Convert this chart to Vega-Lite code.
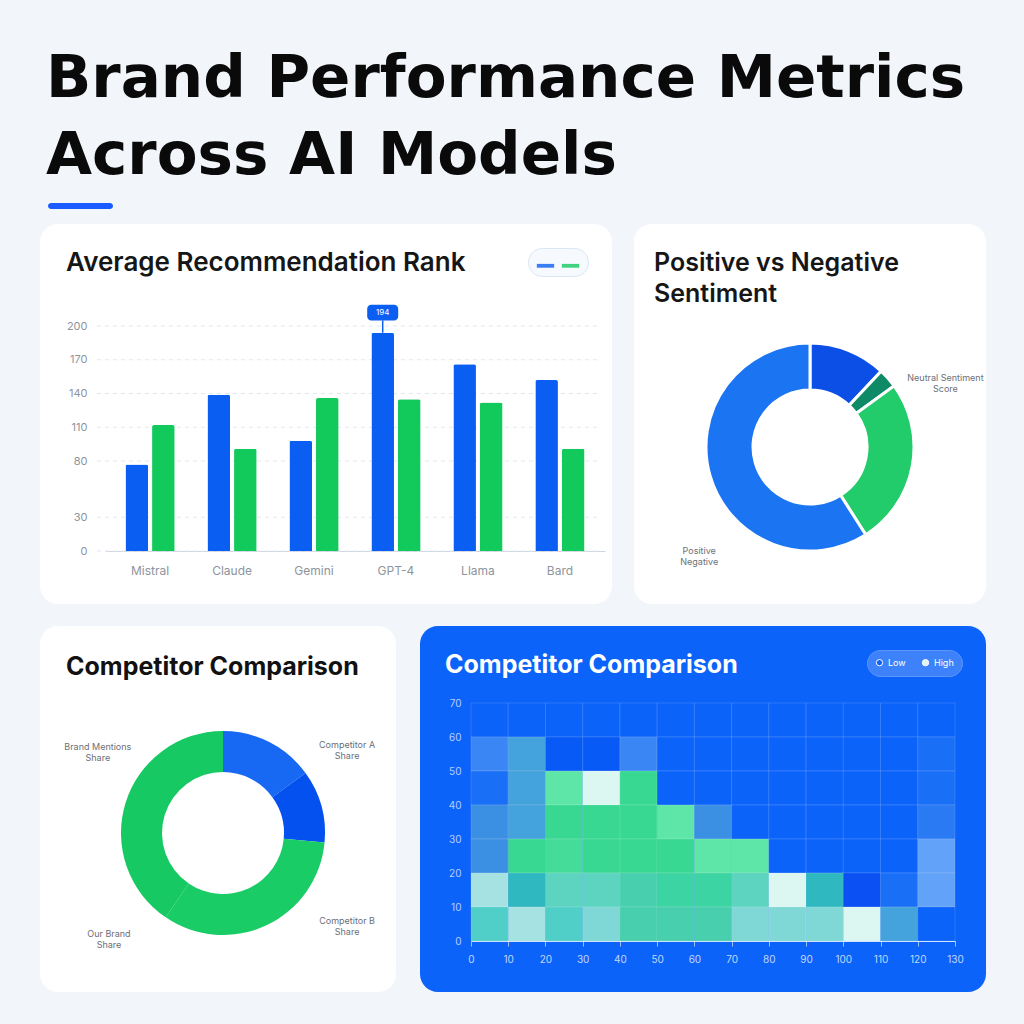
{
  "$schema": "https://vega.github.io/schema/vega-lite/v6.json",
  "background": "#f2f6fb",
  "padding": {"left": 40, "top": 48, "right": 38, "bottom": 32},
  "config": {
    "view": {"stroke": null},
    "font": "Inter",
    "title": {"font": "Inter"}
  },
  "title": {
    "text": ["Brand Performance Metrics", "Across AI Models"],
    "anchor": "start",
    "font": "DejaVu Sans",
    "fontSize": 59.5,
    "fontWeight": "bold",
    "color": "#0a0a0a",
    "lineHeight": 77,
    "dx": 6,
    "offset": 17
  },
  "resolve": {"scale": {"color": "independent", "theta": "independent"}},
  "vconcat": [
    {
      "hconcat": [
        {
          "width": 1,
          "height": 6,
          "data": {"values": []},
          "mark": {"type": "rule", "opacity": 0},
          "encoding": {}
        },
        {
          "width": 65,
          "height": 6,
          "view": {"fill": "#1a5cff", "cornerRadius": 3, "stroke": null},
          "data": {"values": []},
          "mark": {"type": "rule", "opacity": 0},
          "encoding": {}
        }
      ],
      "spacing": 7
    },
    {
      "resolve": {"scale": {"color": "independent", "theta": "independent"}},
      "vconcat": [
        {
          "resolve": {"scale": {"color": "independent", "theta": "independent"}},
          "hconcat": [
            {
              "width": 572,
              "height": 380,
              "view": {"fill": "white", "cornerRadius": 18, "stroke": null},
              "title": {"text": "Average Recommendation Rank", "anchor": "start", "frame": "group", "offset": -52, "dx": 26, "fontSize": 26, "fontWeight": 600, "color": "#161616"},
              "layer": [
                {
                  "data": {"values": [{"v": 0}, {"v": 30}, {"v": 80}, {"v": 110}, {"v": 140}, {"v": 170}, {"v": 200}]},
                  "mark": {"type": "rule", "color": "#e3e8ef", "strokeDash": [4, 4], "strokeWidth": 1},
                  "encoding": {
                    "y": {"field": "v", "type": "quantitative", "scale": {"domain": [0, 200], "range": [327, 102], "nice": false}, "axis": {"title": null, "orient": "left", "offset": -52, "labelPadding": 5, "domain": false, "ticks": false, "tickSize": 0, "grid": false, "values": [0, 30, 80, 110, 140, 170, 200], "labelColor": "#8d949c", "labelFontSize": 11}},
                    "x": {"datum": 0, "type": "quantitative", "scale": {"domain": [0, 1], "range": [57, 557]}, "axis": null},
                    "x2": {"datum": 1}
                  }
                },
                {
                  "layer": [
                    {
                      "data": {"values": [
                        {"model": "Mistral", "series": "Brand", "value": 77},
                        {"model": "Mistral", "series": "Competitor", "value": 112},
                        {"model": "Claude", "series": "Brand", "value": 139},
                        {"model": "Claude", "series": "Competitor", "value": 91},
                        {"model": "Gemini", "series": "Brand", "value": 98},
                        {"model": "Gemini", "series": "Competitor", "value": 136},
                        {"model": "GPT-4", "series": "Brand", "value": 194},
                        {"model": "GPT-4", "series": "Competitor", "value": 135},
                        {"model": "Llama", "series": "Brand", "value": 166},
                        {"model": "Llama", "series": "Competitor", "value": 132},
                        {"model": "Bard", "series": "Brand", "value": 152},
                        {"model": "Bard", "series": "Competitor", "value": 91}
                      ]},
                      "mark": {"type": "bar", "cornerRadiusTopLeft": 2, "cornerRadiusTopRight": 2},
                      "encoding": {
                        "x": {"field": "model", "type": "nominal", "sort": null, "scale": {"domain": ["Mistral", "Claude", "Gemini", "GPT-4", "Llama", "Bard"], "range": [65, 565], "paddingInner": 0.4, "paddingOuter": 0.25}, "axis": {"title": null, "orient": "bottom", "offset": -53, "labelPadding": 14, "ticks": false, "tickSize": 0, "domain": true, "domainColor": "#cfd6df", "labelAngle": 0, "labelColor": "#8d949c", "labelFontSize": 12}},
                        "xOffset": {"field": "series", "type": "nominal", "scale": {"domain": ["Brand", "Competitor"], "paddingInner": 0.15}},
                        "y": {"field": "value", "type": "quantitative", "scale": {"domain": [0, 200], "range": [327, 102], "nice": false}, "axis": {"title": null, "orient": "left", "offset": -52, "labelPadding": 5, "domain": false, "ticks": false, "tickSize": 0, "grid": false, "values": [0, 30, 80, 110, 140, 170, 200], "labelColor": "#8d949c", "labelFontSize": 11}},
                        "color": {"field": "series", "type": "nominal", "scale": {"domain": ["Brand", "Competitor"], "range": ["#0b5ef2", "#12c95c"]}, "legend": {"title": null, "orient": "top-right", "offset": 24, "direction": "horizontal", "fillColor": "#f6f9fe", "strokeColor": "#dbe6f6", "cornerRadius": 14, "padding": 8, "symbolType": "M-1,-0.22H1V0.22H-1Z", "symbolSize": 300, "labelExpr": "''", "labelFontSize": 1, "labelOffset": 0, "columnPadding": 6, "symbolOpacity": 0.8}}
                      }
                    },
                    {
                      "data": {"values": [{"model": "GPT-4", "series": "Brand", "value": 194, "label": "194"}]},
                      "mark": {"type": "rule", "color": "#0b5ef2", "strokeWidth": 1.5},
                      "encoding": {
                        "x": {"field": "model", "type": "nominal"},
                        "xOffset": {"field": "series", "type": "nominal"},
                        "y": {"field": "value", "type": "quantitative", "axis": {"title": null, "orient": "left", "offset": -52, "labelPadding": 5, "domain": false, "ticks": false, "tickSize": 0, "grid": false, "values": [0, 30, 80, 110, 140, 170, 200], "labelColor": "#8d949c", "labelFontSize": 11}},
                        "y2": {"datum": 205}
                      }
                    },
                    {
                      "data": {"values": [{"model": "GPT-4", "series": "Brand", "value": 194, "label": "194"}]},
                      "mark": {"type": "bar", "width": 31, "cornerRadius": 4, "color": "#0b5ef2"},
                      "encoding": {
                        "x": {"field": "model", "type": "nominal"},
                        "xOffset": {"field": "series", "type": "nominal"},
                        "y": {"datum": 205, "type": "quantitative", "axis": {"title": null, "orient": "left", "offset": -52, "labelPadding": 5, "domain": false, "ticks": false, "tickSize": 0, "grid": false, "values": [0, 30, 80, 110, 140, 170, 200], "labelColor": "#8d949c", "labelFontSize": 11}},
                        "y2": {"datum": 219}
                      }
                    },
                    {
                      "data": {"values": [{"model": "GPT-4", "series": "Brand", "value": 194, "label": "194"}]},
                      "mark": {"type": "text", "color": "white", "fontSize": 8, "baseline": "middle"},
                      "encoding": {
                        "x": {"field": "model", "type": "nominal"},
                        "xOffset": {"field": "series", "type": "nominal"},
                        "y": {"datum": 212, "type": "quantitative", "axis": {"title": null, "orient": "left", "offset": -52, "labelPadding": 5, "domain": false, "ticks": false, "tickSize": 0, "grid": false, "values": [0, 30, 80, 110, 140, 170, 200], "labelColor": "#8d949c", "labelFontSize": 11}},
                        "text": {"field": "label"}
                      }
                    }
                  ]
                }
              ],
              "resolve": {"scale": {"x": "independent"}}
            },
            {
              "width": 352,
              "height": 380,
              "view": {"fill": "white", "cornerRadius": 18, "stroke": null},
              "title": {"text": ["Positive vs Negative", "Sentiment"], "anchor": "start", "frame": "group", "offset": -83, "dx": 20, "fontSize": 25, "fontWeight": 600, "lineHeight": 31, "color": "#161616"},
              "layer": [
                {
                  "data": {"values": [
                    {"i": 1, "label": "Neutral", "share": 12},
                    {"i": 2, "label": "Mixed", "share": 3},
                    {"i": 3, "label": "Negative", "share": 26},
                    {"i": 4, "label": "Positive", "share": 59}
                  ]},
                  "mark": {"type": "arc", "radius": 104, "radius2": 57, "stroke": "white", "strokeWidth": 3, "yOffset": 33},
                  "encoding": {
                    "theta": {"field": "share", "type": "quantitative", "stack": true, "scale": {"domain": [0, 100]}},
                    "order": {"field": "i", "type": "quantitative"},
                    "color": {"field": "label", "type": "nominal", "scale": {"domain": ["Neutral", "Mixed", "Negative", "Positive"], "range": ["#0b4fe6", "#0e8a66", "#22cc6a", "#1b74f2"]}, "legend": null}
                  }
                },
                {
                  "data": {"values": [
                    {"pos": 17.5, "t": "Neutral Sentiment\nScore"},
                    {"pos": 63, "t": "Positive\nNegative"}
                  ]},
                  "mark": {"type": "text", "radius": 152, "yOffset": 33, "fontSize": 9, "color": "#6b7078", "lineBreak": "\n"},
                  "encoding": {
                    "theta": {"field": "pos", "type": "quantitative", "stack": null, "scale": {"domain": [0, 100]}},
                    "text": {"field": "t"}
                  }
                }
              ]
            }
          ],
          "spacing": 22
        },
        {
          "resolve": {"scale": {"color": "independent", "theta": "independent"}},
          "hconcat": [
            {
              "width": 356,
              "height": 366,
              "view": {"fill": "white", "cornerRadius": 18, "stroke": null},
              "title": {"text": "Competitor Comparison", "anchor": "start", "frame": "group", "offset": -54, "dx": 26, "fontSize": 25, "fontWeight": 700, "color": "#111111"},
              "layer": [
                {
                  "data": {"values": [
                    {"i": 1, "label": "Competitor A", "share": 15},
                    {"i": 2, "label": "Competitor B", "share": 11.5},
                    {"i": 3, "label": "Competitor C", "share": 33},
                    {"i": 4, "label": "Our Brand", "share": 40.5}
                  ]},
                  "mark": {"type": "arc", "radius": 102, "radius2": 61, "stroke": "white", "strokeWidth": 0, "xOffset": 5, "yOffset": 24},
                  "encoding": {
                    "theta": {"field": "share", "type": "quantitative", "stack": true, "scale": {"domain": [0, 100]}},
                    "order": {"field": "i", "type": "quantitative"},
                    "color": {"field": "label", "type": "nominal", "scale": {"domain": ["Competitor A", "Competitor B", "Competitor C", "Our Brand"], "range": ["#1769f4", "#0551ef", "#19cc66", "#17c962"]}, "legend": null}
                  }
                },
                {
                  "data": {"values": [
                    {"pos": 15.2, "t": "Competitor A\nShare"},
                    {"pos": 34.8, "t": "Competitor B\nShare"},
                    {"pos": 63.5, "t": "Our Brand\nShare"},
                    {"pos": 84.6, "t": "Brand Mentions\nShare"}
                  ]},
                  "mark": {"type": "text", "radius": 152, "xOffset": 5, "yOffset": 24, "fontSize": 9, "color": "#6b7078", "lineBreak": "\n"},
                  "encoding": {
                    "theta": {"field": "pos", "type": "quantitative", "stack": null, "scale": {"domain": [0, 100]}},
                    "text": {"field": "t"}
                  }
                }
              ]
            },
            {
              "width": 566,
              "height": 366,
              "view": {"fill": "#0c63fa", "cornerRadius": 18, "stroke": null},
              "title": {"text": "Competitor Comparison", "anchor": "start", "frame": "group", "offset": -52, "dx": 25, "fontSize": 25, "fontWeight": 700, "color": "#ffffff"},
              "data": {"values": [
                {"c": 0, "c2": 10, "r": 60, "r2": 70, "v": 1}, {"c": 10, "c2": 20, "r": 60, "r2": 70, "v": 1}, {"c": 20, "c2": 30, "r": 60, "r2": 70, "v": 1}, {"c": 30, "c2": 40, "r": 60, "r2": 70, "v": 1}, {"c": 40, "c2": 50, "r": 60, "r2": 70, "v": 1}, {"c": 50, "c2": 60, "r": 60, "r2": 70, "v": 1}, {"c": 60, "c2": 70, "r": 60, "r2": 70, "v": 1}, {"c": 70, "c2": 80, "r": 60, "r2": 70, "v": 1}, {"c": 80, "c2": 90, "r": 60, "r2": 70, "v": 1}, {"c": 90, "c2": 100, "r": 60, "r2": 70, "v": 1}, {"c": 100, "c2": 110, "r": 60, "r2": 70, "v": 1}, {"c": 110, "c2": 120, "r": 60, "r2": 70, "v": 1}, {"c": 120, "c2": 130, "r": 60, "r2": 70, "v": 1},
                {"c": 0, "c2": 10, "r": 50, "r2": 60, "v": 4}, {"c": 10, "c2": 20, "r": 50, "r2": 60, "v": 7}, {"c": 20, "c2": 30, "r": 50, "r2": 60, "v": 0.5}, {"c": 30, "c2": 40, "r": 50, "r2": 60, "v": 0.5}, {"c": 40, "c2": 50, "r": 50, "r2": 60, "v": 4}, {"c": 50, "c2": 60, "r": 50, "r2": 60, "v": 1}, {"c": 60, "c2": 70, "r": 50, "r2": 60, "v": 1}, {"c": 70, "c2": 80, "r": 50, "r2": 60, "v": 1}, {"c": 80, "c2": 90, "r": 50, "r2": 60, "v": 1}, {"c": 90, "c2": 100, "r": 50, "r2": 60, "v": 1}, {"c": 100, "c2": 110, "r": 50, "r2": 60, "v": 1}, {"c": 110, "c2": 120, "r": 50, "r2": 60, "v": 1}, {"c": 120, "c2": 130, "r": 50, "r2": 60, "v": 2},
                {"c": 0, "c2": 10, "r": 40, "r2": 50, "v": 2}, {"c": 10, "c2": 20, "r": 40, "r2": 50, "v": 7}, {"c": 20, "c2": 30, "r": 40, "r2": 50, "v": 14}, {"c": 30, "c2": 40, "r": 40, "r2": 50, "v": 16}, {"c": 40, "c2": 50, "r": 40, "r2": 50, "v": 13}, {"c": 50, "c2": 60, "r": 40, "r2": 50, "v": 1}, {"c": 60, "c2": 70, "r": 40, "r2": 50, "v": 1}, {"c": 70, "c2": 80, "r": 40, "r2": 50, "v": 1}, {"c": 80, "c2": 90, "r": 40, "r2": 50, "v": 1}, {"c": 90, "c2": 100, "r": 40, "r2": 50, "v": 1}, {"c": 100, "c2": 110, "r": 40, "r2": 50, "v": 1}, {"c": 110, "c2": 120, "r": 40, "r2": 50, "v": 1}, {"c": 120, "c2": 130, "r": 40, "r2": 50, "v": 2},
                {"c": 0, "c2": 10, "r": 30, "r2": 40, "v": 6}, {"c": 10, "c2": 20, "r": 30, "r2": 40, "v": 7}, {"c": 20, "c2": 30, "r": 30, "r2": 40, "v": 13}, {"c": 30, "c2": 40, "r": 30, "r2": 40, "v": 13}, {"c": 40, "c2": 50, "r": 30, "r2": 40, "v": 13}, {"c": 50, "c2": 60, "r": 30, "r2": 40, "v": 14}, {"c": 60, "c2": 70, "r": 30, "r2": 40, "v": 6}, {"c": 70, "c2": 80, "r": 30, "r2": 40, "v": 1}, {"c": 80, "c2": 90, "r": 30, "r2": 40, "v": 1}, {"c": 90, "c2": 100, "r": 30, "r2": 40, "v": 1}, {"c": 100, "c2": 110, "r": 30, "r2": 40, "v": 1}, {"c": 110, "c2": 120, "r": 30, "r2": 40, "v": 1}, {"c": 120, "c2": 130, "r": 30, "r2": 40, "v": 3},
                {"c": 0, "c2": 10, "r": 20, "r2": 30, "v": 6}, {"c": 10, "c2": 20, "r": 20, "r2": 30, "v": 13}, {"c": 20, "c2": 30, "r": 20, "r2": 30, "v": 13.3}, {"c": 30, "c2": 40, "r": 20, "r2": 30, "v": 13}, {"c": 40, "c2": 50, "r": 20, "r2": 30, "v": 13}, {"c": 50, "c2": 60, "r": 20, "r2": 30, "v": 13}, {"c": 60, "c2": 70, "r": 20, "r2": 30, "v": 14}, {"c": 70, "c2": 80, "r": 20, "r2": 30, "v": 14}, {"c": 80, "c2": 90, "r": 20, "r2": 30, "v": 1}, {"c": 90, "c2": 100, "r": 20, "r2": 30, "v": 1}, {"c": 100, "c2": 110, "r": 20, "r2": 30, "v": 1}, {"c": 110, "c2": 120, "r": 20, "r2": 30, "v": 1}, {"c": 120, "c2": 130, "r": 20, "r2": 30, "v": 5},
                {"c": 0, "c2": 10, "r": 10, "r2": 20, "v": 15}, {"c": 10, "c2": 20, "r": 10, "r2": 20, "v": 8}, {"c": 20, "c2": 30, "r": 10, "r2": 20, "v": 10}, {"c": 30, "c2": 40, "r": 10, "r2": 20, "v": 10}, {"c": 40, "c2": 50, "r": 10, "r2": 20, "v": 12}, {"c": 50, "c2": 60, "r": 10, "r2": 20, "v": 12.5}, {"c": 60, "c2": 70, "r": 10, "r2": 20, "v": 12.5}, {"c": 70, "c2": 80, "r": 10, "r2": 20, "v": 10}, {"c": 80, "c2": 90, "r": 10, "r2": 20, "v": 16}, {"c": 90, "c2": 100, "r": 10, "r2": 20, "v": 8}, {"c": 100, "c2": 110, "r": 10, "r2": 20, "v": 0}, {"c": 110, "c2": 120, "r": 10, "r2": 20, "v": 2}, {"c": 120, "c2": 130, "r": 10, "r2": 20, "v": 5},
                {"c": 0, "c2": 10, "r": 0, "r2": 10, "v": 9}, {"c": 10, "c2": 20, "r": 0, "r2": 10, "v": 15}, {"c": 20, "c2": 30, "r": 0, "r2": 10, "v": 9}, {"c": 30, "c2": 40, "r": 0, "r2": 10, "v": 11}, {"c": 40, "c2": 50, "r": 0, "r2": 10, "v": 12}, {"c": 50, "c2": 60, "r": 0, "r2": 10, "v": 12}, {"c": 60, "c2": 70, "r": 0, "r2": 10, "v": 12}, {"c": 70, "c2": 80, "r": 0, "r2": 10, "v": 11}, {"c": 80, "c2": 90, "r": 0, "r2": 10, "v": 11}, {"c": 90, "c2": 100, "r": 0, "r2": 10, "v": 11}, {"c": 100, "c2": 110, "r": 0, "r2": 10, "v": 16}, {"c": 110, "c2": 120, "r": 0, "r2": 10, "v": 7}, {"c": 120, "c2": 130, "r": 0, "r2": 10, "v": 1}
              ]},
              "mark": {"type": "rect", "stroke": "#ffffff", "strokeOpacity": 0.13, "strokeWidth": 1},
              "encoding": {
                "x": {"field": "c", "type": "quantitative", "scale": {"domain": [0, 130], "range": [51, 535], "nice": false, "zero": false}, "axis": {"title": null, "orient": "bottom", "offset": -51, "values": [0, 10, 20, 30, 40, 50, 60, 70, 80, 90, 100, 110, 120, 130], "domain": true, "domainColor": "#ffffff", "domainOpacity": 0.8, "ticks": true, "tickColor": "#ffffff", "tickOpacity": 0.6, "tickSize": 5, "labelPadding": 8, "labelColor": "#ffffff", "labelOpacity": 0.75, "labelFontSize": 10, "labelFlush": false, "grid": false}},
                "x2": {"field": "c2"},
                "y": {"field": "r", "type": "quantitative", "scale": {"domain": [0, 70], "range": [315, 77], "nice": false, "zero": false}, "axis": {"title": null, "orient": "left", "offset": -45, "values": [0, 10, 20, 30, 40, 50, 60, 70], "domain": false, "ticks": false, "tickSize": 0, "labelPadding": 4, "labelColor": "#ffffff", "labelOpacity": 0.7, "labelFontSize": 10, "grid": false}},
                "y2": {"field": "r2"},
                "color": {"field": "v", "type": "quantitative", "scale": {"domain": [0, 1, 2, 3, 4, 5, 6, 7, 8, 9, 10, 11, 12, 13, 14, 15, 16], "range": ["#0a50f2", "#0b63fa", "#1a6ff7", "#2a7af4", "#3a86f4", "#62a2f8", "#3c90e4", "#44a2dc", "#30b8c0", "#50cec8", "#5cd4c0", "#80d8d6", "#48cfae", "#38d892", "#5ee6a8", "#a6e2e2", "#dcf6f2"]}, "legend": {"type": "symbol", "values": [1, 16], "labelExpr": "datum.value < 5 ? 'Low' : 'High'", "title": null, "orient": "top-right", "offset": 24, "direction": "horizontal", "fillColor": "#3d82fb", "strokeColor": "#5c96fb", "cornerRadius": 14, "padding": 8, "symbolType": "circle", "symbolSize": 40, "symbolStrokeColor": "#ffffff", "symbolStrokeWidth": 1, "labelColor": "#ffffff", "labelFontSize": 9, "columnPadding": 14}}
              }
            }
          ],
          "spacing": 24
        }
      ],
      "spacing": 22
    }
  ],
  "spacing": 15
}
